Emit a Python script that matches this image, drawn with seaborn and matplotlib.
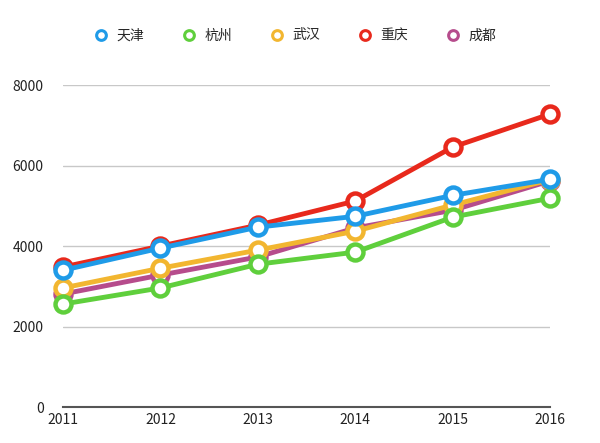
import pandas as pd
import matplotlib
matplotlib.use("Agg")
import matplotlib.pyplot as plt
from matplotlib.lines import Line2D
import seaborn as sns

years = [2011, 2012, 2013, 2014, 2015, 2016]
cities = ['天津', '杭州', '武汉', '重庆', '成都']
tianjin = [3400, 3950, 4470, 4740, 5260, 5660]
hangzhou = [2560, 2960, 3550, 3850, 4720, 5190]
wuhan = [2960, 3450, 3900, 4370, 5020, 5650]
chongqing = [3480, 4000, 4520, 5120, 6460, 7280]
chengdu = [2810, 3280, 3730, 4450, 4890, 5620]
colors = ['#1f9be8', '#5fcf3c', '#f2b630', '#e8291c', '#b64c8c']

values = {'天津': tianjin, '杭州': hangzhou, '武汉': wuhan, '重庆': chongqing, '成都': chengdu}
rows = []
for c in cities:
    for y, v in zip(years, values[c]):
        rows.append({'year': y, 'value': v, 'city': c})
df = pd.DataFrame(rows)
palette = dict(zip(cities, colors))

sns.set_style('white')
plt.rcParams['font.family'] = ['Noto Sans CJK SC', 'DejaVu Sans']

fig = plt.figure(figsize=(6, 4.43), dpi=100)
ax = fig.add_axes([0.105, 0.081, 0.812, 0.727])

# 绘制顺序：成都在最底，天津在最上
for c in ['成都', '重庆', '武汉', '杭州', '天津']:
    sns.lineplot(data=df[df['city'] == c], x='year', y='value', color=palette[c],
                 linewidth=3.5, marker='o', markersize=11.5, markerfacecolor='white',
                 markeredgecolor=palette[c], markeredgewidth=3.2, ax=ax,
                 legend=False, clip_on=False, zorder=3)

ax.set_xlim(2011, 2016)
ax.set_ylim(0, 8000)
ax.set_yticks([0, 2000, 4000, 6000, 8000])
ax.set_xticks(years)
ax.set_xlabel('')
ax.set_ylabel('')
ax.grid(axis='y', color='#c8c8c8', linewidth=1)
ax.grid(axis='x', visible=False)
for s in ['top', 'right', 'left']:
    ax.spines[s].set_visible(False)
ax.spines['bottom'].set_color('#555555')
ax.spines['bottom'].set_linewidth(1.5)
ax.tick_params(axis='both', length=0, labelsize=10, colors='#222222')
ax.tick_params(axis='y', pad=14)
ax.tick_params(axis='x', pad=4)

handles = [Line2D([], [], color='none', marker='o', markersize=7, markerfacecolor='white',
                  markeredgecolor=palette[c], markeredgewidth=2.2) for c in cities]
fig.legend(handles, cities, loc='center', bbox_to_anchor=(0.492, 0.92), ncol=5,
           frameon=False, fontsize=10, handlelength=1, handletextpad=0.6, columnspacing=2.75)

fig.savefig('out.png', dpi=100)
